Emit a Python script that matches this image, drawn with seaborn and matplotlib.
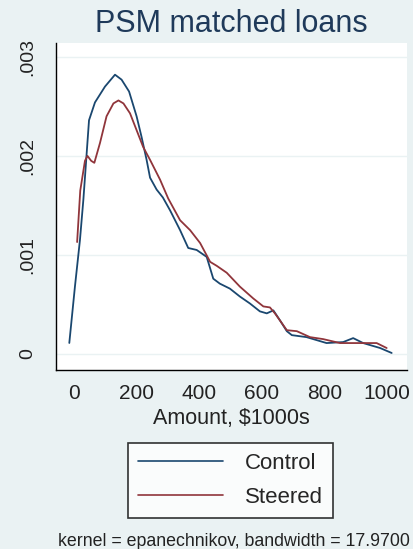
import matplotlib
matplotlib.use("Agg")
import matplotlib.pyplot as plt
import pandas as pd
import seaborn as sns

# kernel density estimates
control_x = [-15, 3, 19, 30, 48, 67, 99, 131, 152, 176, 200, 216, 232, 243, 264, 284,
             307, 339, 365, 392, 424, 445, 466, 498, 530, 562, 594, 616, 637, 658, 680,
             696, 743, 775, 807, 860, 892, 924, 978, 1015]
control_y = [0.000111, 0.00068, 0.00115, 0.00156, 0.00236, 0.00254, 0.00270, 0.00282,
             0.00277, 0.00265, 0.00240, 0.00219, 0.00196, 0.00178, 0.00166, 0.00158,
             0.00145, 0.00125, 0.00107, 0.00105, 0.00098, 0.00076, 0.00071, 0.00066,
             0.00058, 0.00051, 0.00043, 0.00041, 0.00044, 0.00034, 0.00023, 0.00019,
             0.00017, 0.00014, 0.00011, 0.00012, 0.00016, 0.00011, 0.00006, 0.00001]

steered_x = [10, 20, 35, 43, 55, 65, 83, 104, 126, 142, 158, 179, 200, 221, 243, 275,
             301, 339, 371, 403, 435, 456, 488, 530, 573, 605, 626, 642, 680, 712, 754,
             796, 850, 892, 935, 967, 999]
steered_y = [0.00113, 0.00165, 0.00195, 0.00200, 0.00195, 0.00193, 0.00213, 0.00240,
             0.00253, 0.00256, 0.00253, 0.00243, 0.00226, 0.00209, 0.00196, 0.00176,
             0.00157, 0.00135, 0.00125, 0.00112, 0.00093, 0.00089, 0.00082, 0.00068,
             0.00056, 0.00048, 0.00047, 0.00041, 0.00024, 0.00023, 0.00017, 0.00015,
             0.00011, 0.00011, 0.00011, 0.00011, 0.00006]

x_ticks = [0, 200, 400, 600, 800, 1000]
y_ticks = [0, 0.001, 0.002, 0.003]
y_tick_labels = ["0", ".001", ".002", ".003"]

BG = "#eaf2f3"
COLORS = {"Control": "#1a476f", "Steered": "#90353b"}

sns.set_style("white")
plt.rcParams["font.family"] = ["Liberation Sans", "DejaVu Sans"]

df = pd.concat([
    pd.DataFrame({"x": control_x, "y": control_y, "group": "Control"}),
    pd.DataFrame({"x": steered_x, "y": steered_y, "group": "Steered"}),
])

fig = plt.figure(figsize=(4.13, 5.49), dpi=100, facecolor=BG)
ax = fig.add_axes([56 / 413, 1 - 370 / 549, (407 - 56) / 413, (370 - 43) / 549])
ax.set_facecolor("white")

sns.lineplot(data=df, x="x", y="y", hue="group", palette=COLORS, sort=False,
             linewidth=1.3, ax=ax, legend=False)

ax.set_xlim(-57.5, 1064)
ax.set_ylim(-0.000162, 0.00314)
ax.set_xticks(x_ticks)
ax.set_yticks(y_ticks)
ax.set_yticklabels(y_tick_labels, rotation=90, va="center")
ax.yaxis.grid(True, color=BG, linewidth=1)
ax.xaxis.grid(False)

for side in ["top", "right"]:
    ax.spines[side].set_visible(False)
for side in ["left", "bottom"]:
    ax.spines[side].set_color("black")
    ax.spines[side].set_linewidth(1)

ax.tick_params(axis="both", direction="out", length=5, width=1, color="black",
               labelcolor="#222222")
ax.tick_params(axis="x", pad=5, labelsize=15)
ax.tick_params(axis="y", pad=9, labelsize=14)

ax.set_xlabel("Amount, $1000s", fontsize=15.5, color="#222222", labelpad=4)
ax.set_ylabel("")
ax.set_title("PSM matched loans", fontsize=22, color="#1f3a5a", pad=8)

handles = [plt.Line2D([], [], color=COLORS[g], linewidth=1.2) for g in ["Control", "Steered"]]
leg = fig.legend(handles, ["Control", "Steered"], loc="center",
                 bbox_to_anchor=(230.5 / 413, 1 - 480.5 / 549), fontsize=16,
                 frameon=True, fancybox=False, edgecolor="black", handlelength=3.8,
                 handletextpad=1.0, borderpad=0.45, labelspacing=0.6)
leg.get_frame().set_linewidth(1.2)
leg.get_frame().set_facecolor("white")

fig.text(234 / 413, 1 - 541 / 549, "kernel = epanechnikov, bandwidth = 17.9700",
         ha="center", va="center", fontsize=12.8, color="#222222")

fig.savefig("out.png", dpi=100, facecolor=BG)
